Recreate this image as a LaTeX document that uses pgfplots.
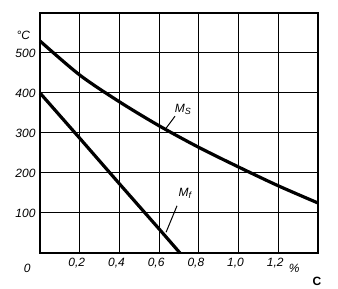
\documentclass[border=0pt]{standalone}
\usepackage{fontspec}
\setmainfont{Liberation Sans}
\usepackage{pgfplots}
\pgfplotsset{compat=1.18}
\begin{document}
\begin{tikzpicture}[x=1pt,y=1pt]
\begin{axis}[
  scale only axis,
  width=278pt, height=240pt,
  xmin=0, xmax=1.4, ymin=0, ymax=600,
  xtick={0.2,0.4,0.6,0.8,1.0,1.2,1.4},
  xticklabels={{0,2},{0,4},{0,6},{0,8},{1,0},{1,2},{}},
  ytick={100,200,300,400,500,600},
  yticklabels={100,200,300,400,500,{}},
  grid=major,
  major grid style={black, line width=1pt},
  axis line style={line width=1.6pt},
  tick style={draw=none},
  ticklabel style={font=\fontsize{12}{14}\selectfont\itshape},
  /pgf/number format/assume math mode=true,
  xticklabel style={yshift=-2pt, xshift=-3pt},
  yticklabel style={xshift=-1pt},
  clip=false,
]
\addplot[black, line width=3.2pt, smooth] coordinates {
  (0,530) (0.2,445) (0.4,378) (0.6,318) (0.8,264) (1.0,215) (1.2,168) (1.4,125)};
\addplot[black, line width=3.2pt] coordinates {
  (0,400) (0.2,287) (0.4,173) (0.6,60) (0.705,0)};
\draw[black, line width=1pt] (axis cs:0.68,342) -- (axis cs:0.635,312);
\draw[black, line width=1pt] (axis cs:0.69,118) -- (axis cs:0.635,52);
\node[font=\fontsize{12}{14}\selectfont\itshape] at (axis cs:0.72,360) {M\raisebox{-2pt}{\fontsize{9}{10}\selectfont S}};
\node[font=\fontsize{12}{14}\selectfont\itshape] at (axis cs:0.73,148) {M\raisebox{-2pt}{\fontsize{9}{10}\selectfont f}};
\node[font=\fontsize{12}{14}\selectfont\itshape, anchor=east] at (axis cs:-0.032,545) {°C};
\node[font=\fontsize{12}{14}\selectfont\itshape] at (axis cs:-0.065,-38) {0};
\node[font=\fontsize{12}{14}\selectfont\itshape] at (axis cs:1.28,-38) {\%};
\node[font=\fontsize{12}{14}\selectfont\bfseries] at (axis cs:1.395,-70) {C};
\path (rel axis cs:0,0) ++(-40pt,-33pt) coordinate (bl);
\path (rel axis cs:1,1) ++(20pt,13pt) coordinate (tr);
\end{axis}
\path (bl) rectangle (tr);
\end{tikzpicture}
\end{document}
